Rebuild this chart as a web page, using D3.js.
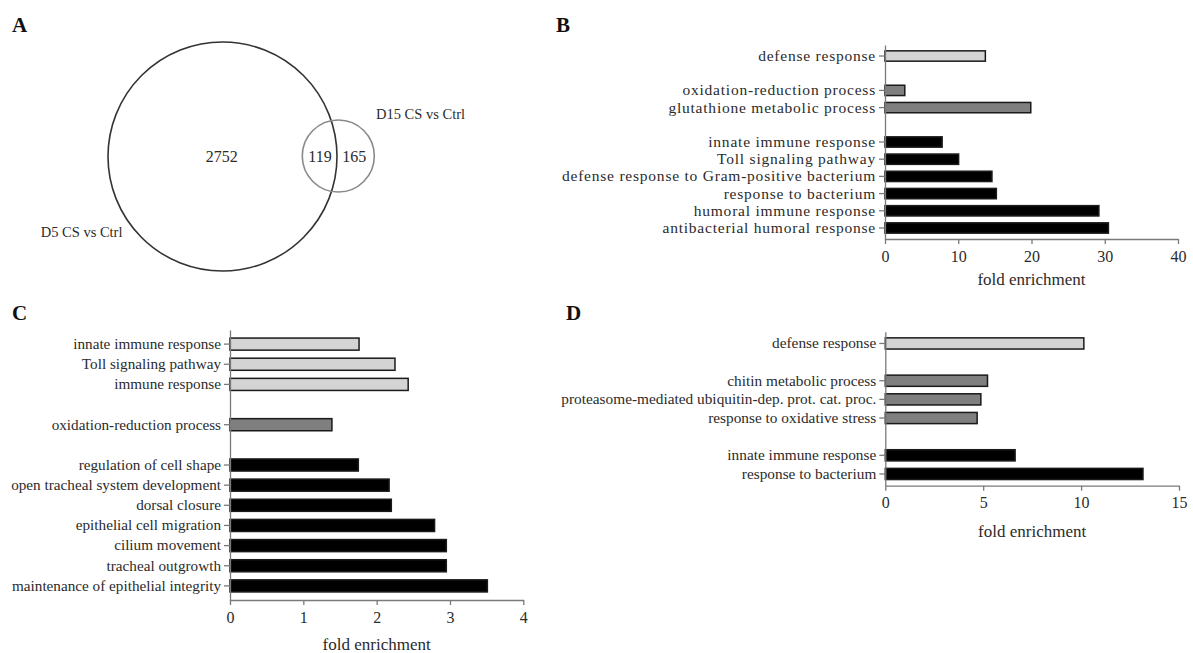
<!DOCTYPE html>
<html>
<head>
<meta charset="utf-8">
<script src="https://cdn.jsdelivr.net/npm/d3@7"></script>
<style>
  html, body { margin: 0; padding: 0; background: #fff; }
  svg { display: block; }
  text { font-family: "Liberation Serif", "Times New Roman", serif; fill: #2b2b2b; }
</style>
</head>
<body>
<svg id="chart" width="1193" height="653"></svg>
<script>
// ---------- Panel A: Venn ----------
const vennSetNames = ["D5 CS vs Ctrl", "D15 CS vs Ctrl"];
const vennOnlyD5 = 2752;
const vennShared = 119;
const vennOnlyD15 = 165;

// ---------- Panel B ----------
const bCategories = ["defense response", null, "oxidation-reduction process", "glutathione metabolic process", null,
  "innate immune response", "Toll signaling pathway", "defense response to Gram-positive bacterium",
  "response to bacterium", "humoral immune response", "antibacterial humoral response"];
const bValues = [13.7, null, 2.7, 19.9, null, 7.8, 10.05, 14.6, 15.2, 29.2, 30.5];
const bGroups = [1, null, 2, 2, null, 3, 3, 3, 3, 3, 3];
const bTicks = [0, 10, 20, 30, 40];

// ---------- Panel C ----------
const cCategories = ["innate immune response", "Toll signaling pathway", "immune response", null,
  "oxidation-reduction process", null, "regulation of cell shape", "open tracheal system development",
  "dorsal closure", "epithelial cell migration", "cilium movement", "tracheal outgrowth",
  "maintenance of epithelial integrity"];
const cValues = [1.76, 2.25, 2.43, null, 1.39, null, 1.75, 2.17, 2.2, 2.79, 2.95, 2.95, 3.51];
const cGroups = [1, 1, 1, null, 2, null, 3, 3, 3, 3, 3, 3, 3];
const cTicks = [0, 1, 2, 3, 4];

// ---------- Panel D ----------
const dCategories = ["defense response", null, "chitin metabolic process",
  "proteasome-mediated ubiquitin-dep. prot. cat. proc.", "response to oxidative stress", null,
  "innate immune response", "response to bacterium"];
const dValues = [10.14, null, 5.22, 4.88, 4.69, null, 6.63, 13.16];
const dGroups = [1, null, 2, 2, 2, null, 3, 3];
const dTicks = [0, 5, 10, 15];

const axisTitle = "fold enrichment";
const panelLetters = ["A", "B", "C", "D"];

// ---------- drawing ----------
const svg = d3.select("#chart");
const FONT = '"Liberation Serif", "Times New Roman", serif';
const groupFill = d3.scaleOrdinal().domain([1, 2, 3]).range(["#d4d4d4", "#7f7f7f", "#000000"]);

// letter-spacing that makes a sample string, at a given size, span a target width
function fitSpacing(sample, size, targetWidth) {
  const t = svg.append("text").style("font-family", FONT).style("font-size", size + "px").text(sample);
  const w = t.node().getComputedTextLength();
  t.remove();
  return Math.max(0, (targetWidth - w) / sample.length);
}

// panel letters
const letterPos = [[12, 32], [556, 32], [12, 320], [566, 320]];
svg.selectAll("text.letter").data(panelLetters).join("text")
  .attr("class", "letter")
  .attr("x", (d, i) => letterPos[i][0])
  .attr("y", (d, i) => letterPos[i][1])
  .style("font-weight", "bold").style("font-size", "21px").style("fill", "#111")
  .text(d => d);

// Venn
(function drawVenn() {
  const totals = [vennOnlyD5 + vennShared, vennOnlyD15 + vennShared];
  const r = d3.scaleSqrt().domain([0, totals[0]]).range([0, 114.5]);
  const g = svg.append("g");
  const c1 = [222.5, 156.5], c2 = [338.3, 156];
  g.append("circle").attr("cx", c1[0]).attr("cy", c1[1]).attr("r", r(totals[0]))
    .attr("fill", "none").attr("stroke", "#333").attr("stroke-width", 1.6);
  g.append("circle").attr("cx", c2[0]).attr("cy", c2[1]).attr("r", r(totals[1]))
    .attr("fill", "none").attr("stroke", "#8a8a8a").attr("stroke-width", 1.6);
  const nums = [[vennOnlyD5, 221.7], [vennShared, 320], [vennOnlyD15, 354.3]];
  g.selectAll("text.num").data(nums).join("text").attr("class", "num")
    .attr("x", d => d[1]).attr("y", 156).attr("dy", "0.35em")
    .attr("text-anchor", "middle").style("font-size", "16px")
    .text(d => d[0]);
  g.append("text").attr("x", 40.7).attr("y", 231.7).attr("dy", "0.35em")
    .style("font-size", "14.5px").text(vennSetNames[0]);
  g.append("text").attr("x", 376).attr("y", 113.7).attr("dy", "0.35em")
    .style("font-size", "14.5px").text(vennSetNames[1]);
})();

function drawBarPanel(cfg) {
  const { categories, values, groups, ticks, x0, x1, top, bottom, outer, labelSize, sample, sampleWidth, tickDy, titleDy } = cfg;
  const spacing = fitSpacing(sample, labelSize, sampleWidth);
  const g = svg.append("g");
  const idx = d3.range(categories.length);
  const x = d3.scaleLinear().domain([ticks[0], ticks[ticks.length - 1]]).range([x0, x1]);
  const y = d3.scaleBand().domain(idx).range([top, bottom]).paddingInner(0.4).paddingOuter(outer);
  const present = idx.filter(i => categories[i] !== null);

  g.selectAll("rect").data(present).join("rect")
    .attr("x", x(0))
    .attr("y", i => y(i))
    .attr("width", i => x(values[i]) - x(0))
    .attr("height", y.bandwidth())
    .attr("fill", i => groupFill(groups[i]))
    .attr("stroke", "#1a1a1a").attr("stroke-width", 1.5);

  const yAxis = g.append("g").attr("transform", `translate(${x0},0)`)
    .call(d3.axisLeft(y).tickValues(present).tickFormat(i => categories[i])
      .tickSize(6).tickPadding(3).tickSizeOuter(0));
  yAxis.selectAll("text").style("font-size", labelSize + "px").style("fill", "#2b2b2b")
    .style("font-family", FONT).style("letter-spacing", spacing + "px");
  yAxis.selectAll("path, line").attr("stroke", "#7a7a7a").attr("stroke-width", 1.3);

  const xAxis = g.append("g").attr("transform", `translate(0,${bottom})`)
    .call(d3.axisBottom(x).tickValues(ticks).tickFormat(d3.format("d"))
      .tickSize(5).tickPadding(3).tickSizeOuter(0));
  xAxis.selectAll("path, line").attr("stroke", "#7a7a7a").attr("stroke-width", 1.3);
  xAxis.selectAll("text").attr("y", tickDy).attr("dy", "0.35em")
    .style("font-size", "16px").style("fill", "#2b2b2b")
    .style("font-family", FONT);

  g.append("text").attr("x", (x0 + x1) / 2).attr("y", bottom + titleDy).attr("dy", "0.35em")
    .attr("text-anchor", "middle").style("font-size", "17px").text(axisTitle);
}

drawBarPanel({ categories: bCategories, values: bValues, groups: bGroups, ticks: bTicks,
  x0: 885, x1: 1178, top: 45, bottom: 239, outer: 0.34, labelSize: 15.5,
  sample: bCategories[7], sampleWidth: 314, tickDy: 17, titleDy: 40 });
drawBarPanel({ categories: cCategories, values: cValues, groups: cGroups, ticks: cTicks,
  x0: 230, x1: 523.3, top: 330, bottom: 600, outer: 0.4, labelSize: 15.2,
  sample: cCategories[12], sampleWidth: 209, tickDy: 17, titleDy: 44 });
drawBarPanel({ categories: dCategories, values: dValues, groups: dGroups, ticks: dTicks,
  x0: 885.3, x1: 1179, top: 331.7, bottom: 485.7, outer: 0.33, labelSize: 15.3,
  sample: dCategories[3], sampleWidth: 315, tickDy: 17, titleDy: 45 });
</script>
</body>
</html>
